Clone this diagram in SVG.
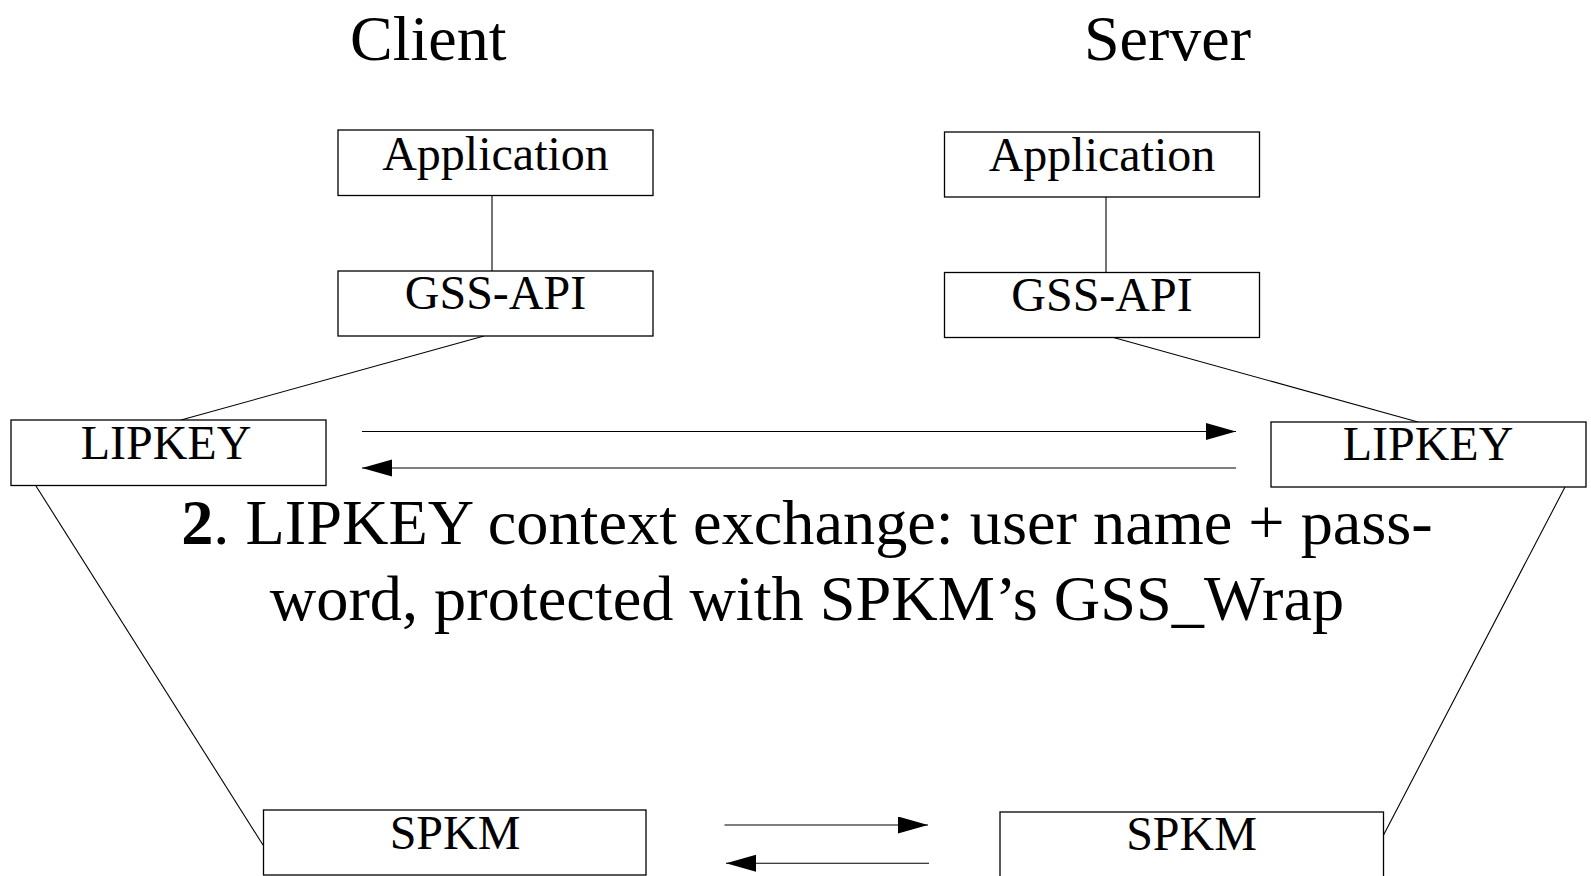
<svg xmlns="http://www.w3.org/2000/svg" width="1591" height="876" viewBox="0 0 1591 876">
<defs>
<style>
.box{fill:#fff;stroke:#000;stroke-width:1.3}
.ln{fill:none;stroke:#000;stroke-width:1.1}
.lbl{font-family:"Liberation Serif","Times New Roman",serif;font-size:48px;text-anchor:middle;fill:#000}
.ttl{font-family:"Liberation Serif","Times New Roman",serif;font-size:64px;fill:#000}
.main{font-family:"Liberation Serif","Times New Roman",serif;font-size:64.3px;text-anchor:middle;fill:#000}
</style>
<marker id="ah" markerUnits="userSpaceOnUse" markerWidth="31" markerHeight="18" refX="30" refY="8.5" orient="auto">
<path d="M0,0 L30,8.5 L0,17 Z" fill="#000"/>
</marker>
</defs>
<rect width="1591" height="876" fill="#fff"/>
<text class="ttl" x="350" y="60">Client</text>
<text class="ttl" x="1084" y="60">Server</text>
<g id="connectors">
<line class="ln" x1="492" y1="196" x2="492" y2="271"/>
<line class="ln" x1="1106" y1="197" x2="1106" y2="272.5"/>
<line class="ln" x1="484" y1="336" x2="181" y2="420"/>
<line class="ln" x1="1113.5" y1="337.5" x2="1418" y2="422"/>
<line class="ln" x1="36" y1="486" x2="263" y2="845"/>
<line class="ln" x1="1565" y1="487" x2="1382" y2="838"/>
<line class="ln" x1="362" y1="431.5" x2="1236" y2="431.5" marker-end="url(#ah)"/>
<line class="ln" x1="1236" y1="468" x2="362" y2="468" marker-end="url(#ah)"/>
<line class="ln" x1="724.5" y1="825" x2="928" y2="825" marker-end="url(#ah)"/>
<line class="ln" x1="929" y1="863.3" x2="726" y2="863.3" marker-end="url(#ah)"/>
</g>
<g id="client-app"><rect class="box" x="338" y="130" width="315" height="65.5"/><text class="lbl" x="495.5" y="170">Application</text></g>
<g id="client-gss"><rect class="box" x="338" y="271" width="315" height="65"/><text class="lbl" x="495.5" y="309">GSS-API</text></g>
<g id="server-app"><rect class="box" x="944.5" y="132" width="315" height="65"/><text class="lbl" x="1102" y="171">Application</text></g>
<g id="server-gss"><rect class="box" x="944.5" y="272.5" width="315" height="65"/><text class="lbl" x="1102" y="310.5">GSS-API</text></g>
<g id="client-lipkey"><rect class="box" x="11" y="420" width="315" height="65.5"/><text class="lbl" x="166" y="459">LIPKEY</text></g>
<g id="server-lipkey"><rect class="box" x="1271" y="422" width="315" height="65"/><text class="lbl" x="1428" y="460">LIPKEY</text></g>
<g id="client-spkm"><rect class="box" x="263.5" y="810" width="382.5" height="65"/><text class="lbl" x="455" y="849">SPKM</text></g>
<g id="server-spkm"><rect class="box" x="1000" y="812" width="383.5" height="70"/><text class="lbl" x="1191.5" y="850">SPKM</text></g>
<g id="label">
<text class="main" x="807" y="544"><tspan font-weight="bold">2</tspan>. LIPKEY context exchange: user name + pass-</text>
<text class="main" x="807" y="620">word, protected with SPKM’s GSS_Wrap</text>
</g>
</svg>
